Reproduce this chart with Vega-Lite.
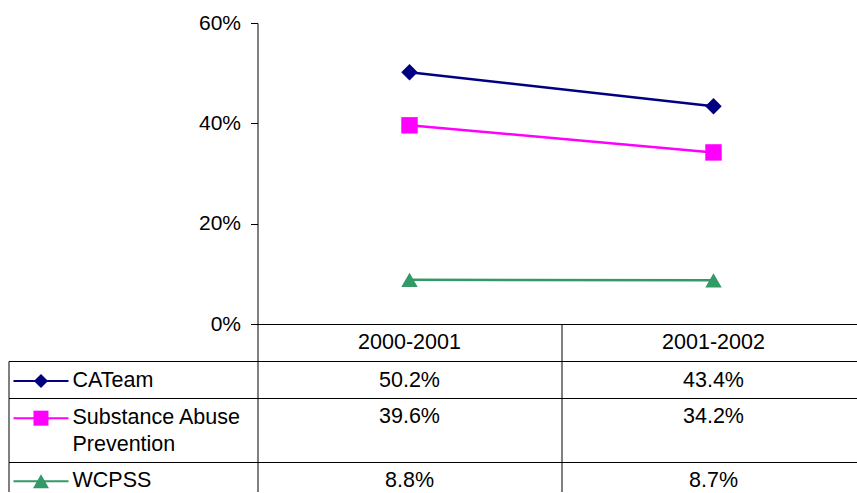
{
  "$schema": "https://vega.github.io/schema/vega-lite/v6.json",
  "background": "white",
  "padding": {"left": 8.5, "top": 0, "right": -9, "bottom": 0},
  "columns": 2,
  "spacing": 0,
  "bounds": "flush",
  "config": {
    "view": {"stroke": null},
    "font": "Liberation Sans",
    "text": {"font": "Liberation Sans", "fontSize": 21.5, "color": "black"}
  },
  "datasets": {
    "values": [
      {"series": "CATeam", "year": "2000-2001", "value": 0.502},
      {"series": "CATeam", "year": "2001-2002", "value": 0.434},
      {"series": "Substance Abuse Prevention", "year": "2000-2001", "value": 0.396},
      {"series": "Substance Abuse Prevention", "year": "2001-2002", "value": 0.342},
      {"series": "WCPSS", "year": "2000-2001", "value": 0.088},
      {"series": "WCPSS", "year": "2001-2002", "value": 0.087}
    ],
    "legend": [
      {"series": "CATeam", "label": "CATeam"},
      {"series": "Substance Abuse Prevention", "label": "Substance Abuse\nPrevention"},
      {"series": "WCPSS", "label": "WCPSS"}
    ]
  },
  "concat": [
    {"width": 249, "height": 23, "data": {"values": []}, "mark": "point"},
    {"width": 608, "height": 23, "data": {"values": []}, "mark": "point"},
    {"width": 249, "height": 301, "data": {"values": []}, "mark": "point"},
    {
      "width": 608, "height": 301,
      "data": {"name": "values"},
      "encoding": {
        "x": {"field": "year", "type": "nominal", "title": null,
              "axis": {"orient": "bottom", "labels": false, "ticks": false, "domainColor": "black", "domainWidth": 1}},
        "y": {"field": "value", "type": "quantitative", "title": null,
              "scale": {"domain": [0, 0.6], "nice": false},
              "axis": {"values": [0, 0.2, 0.4, 0.6], "format": ".0%", "grid": false, "tickSize": 7, "tickColor": "black",
                       "domainColor": "black", "labelPadding": 10, "labelFontSize": 21, "labelColor": "black", "labelFont": "Liberation Sans"}},
        "color": {"field": "series", "type": "nominal", "legend": null,
                  "scale": {"domain": ["CATeam", "Substance Abuse Prevention", "WCPSS"], "range": ["#000080", "#FF00FF", "#339966"]}}
      },
      "layer": [
        {"mark": {"type": "line", "strokeWidth": 2.5}},
        {"mark": {"type": "point", "filled": true, "opacity": 1, "size": 270},
         "encoding": {"shape": {"field": "series", "type": "nominal", "legend": null,
                                "scale": {"domain": ["CATeam", "Substance Abuse Prevention", "WCPSS"], "range": ["diamond", "square", "triangle-up"]}}}}
      ]
    },
    {"width": 249, "height": 37, "data": {"values": []}, "mark": "point"},
    {
      "width": 608, "height": 37,
      "data": {"name": "values"},
      "transform": [{"filter": "datum.series === 'CATeam'"}],
      "mark": {"type": "text", "fontSize": 21.5},
      "encoding": {
        "x": {"field": "year", "type": "nominal", "title": null,
              "scale": {"type": "band", "paddingInner": 0, "paddingOuter": 0},
              "axis": {"orient": "top", "labels": false, "ticks": false, "domain": false, "grid": true, "gridColor": "black", "gridOpacity": 1, "bandPosition": 0}},
        "y": {"field": "series", "type": "nominal", "title": null, "bandPosition": 0.52, "scale": {"type": "band", "paddingInner": 0, "paddingOuter": 0}, "axis": null},
        "text": {"field": "year", "type": "nominal"}
      }
    },
    {
      "width": 249, "height": 37,
      "data": {"name": "legend"},
      "transform": [{"filter": "datum.series === 'CATeam'"}],
      "encoding": {
        "y": {"field": "series", "type": "nominal", "title": null, "bandPosition": 0.54, "scale": {"type": "band", "paddingInner": 0, "paddingOuter": 0},
              "axis": {"orient": "left", "labels": false, "ticks": false, "domainColor": "black"}},
        "color": {"field": "series", "type": "nominal", "legend": null,
                  "scale": {"domain": ["CATeam", "Substance Abuse Prevention", "WCPSS"], "range": ["#000080", "#FF00FF", "#339966"]}}
      },
      "layer": [
        {"mark": {"type": "point", "shape": "stroke", "size": 3025, "strokeWidth": 2, "opacity": 1},
         "encoding": {"x": {"field": "series", "type": "nominal", "title": null, "bandPosition": 0.1305, "scale": {"type": "band", "paddingInner": 0, "paddingOuter": 0},
                            "axis": {"orient": "top", "labels": false, "ticks": false, "domainColor": "black"}}}},
        {"mark": {"type": "point", "shape": "diamond", "filled": true, "size": 200, "opacity": 1},
         "encoding": {"x": {"field": "series", "type": "nominal", "title": null, "bandPosition": 0.1305, "scale": {"type": "band", "paddingInner": 0, "paddingOuter": 0},
                            "axis": {"orient": "top", "labels": false, "ticks": false, "domainColor": "black"}}}},
        {"mark": {"type": "text", "align": "left", "fontSize": 21.5, "color": "black"},
         "encoding": {"x": {"field": "series", "type": "nominal", "title": null, "bandPosition": 0.257, "scale": {"type": "band", "paddingInner": 0, "paddingOuter": 0},
                            "axis": {"orient": "top", "labels": false, "ticks": false, "domainColor": "black"}},
                      "text": {"field": "label"}, "color": {"value": "black"}}}
      ]
    },
    {
      "width": 608, "height": 37,
      "data": {"name": "values"},
      "transform": [{"filter": "datum.series === 'CATeam'"}],
      "mark": {"type": "text", "fontSize": 21.5},
      "encoding": {
        "x": {"field": "year", "type": "nominal", "title": null,
              "scale": {"type": "band", "paddingInner": 0, "paddingOuter": 0},
              "axis": {"orient": "top", "labels": false, "ticks": false, "domainColor": "black", "grid": true, "gridColor": "black", "gridOpacity": 1, "bandPosition": 0}},
        "y": {"field": "series", "type": "nominal", "title": null, "bandPosition": 0.54, "scale": {"type": "band", "paddingInner": 0, "paddingOuter": 0}, "axis": null},
        "text": {"field": "value", "type": "quantitative", "format": ".1%"}
      }
    },
    {
      "width": 249, "height": 64,
      "data": {"name": "legend"},
      "transform": [{"filter": "datum.series === 'Substance Abuse Prevention'"}],
      "encoding": {
        "y": {"field": "series", "type": "nominal", "title": null, "bandPosition": 0.315, "scale": {"type": "band", "paddingInner": 0, "paddingOuter": 0},
              "axis": {"orient": "left", "labels": false, "ticks": false, "domainColor": "black"}},
        "color": {"field": "series", "type": "nominal", "legend": null,
                  "scale": {"domain": ["CATeam", "Substance Abuse Prevention", "WCPSS"], "range": ["#000080", "#FF00FF", "#339966"]}}
      },
      "layer": [
        {"mark": {"type": "point", "shape": "stroke", "size": 3025, "strokeWidth": 2, "opacity": 1},
         "encoding": {"x": {"field": "series", "type": "nominal", "title": null, "bandPosition": 0.1305, "scale": {"type": "band", "paddingInner": 0, "paddingOuter": 0},
                            "axis": {"orient": "top", "labels": false, "ticks": false, "domainColor": "black"}}}},
        {"mark": {"type": "point", "shape": "square", "filled": true, "size": 225, "opacity": 1},
         "encoding": {"x": {"field": "series", "type": "nominal", "title": null, "bandPosition": 0.1305, "scale": {"type": "band", "paddingInner": 0, "paddingOuter": 0},
                            "axis": {"orient": "top", "labels": false, "ticks": false, "domainColor": "black"}}}},
        {"mark": {"type": "text", "align": "left", "fontSize": 21.5, "color": "black", "lineBreak": "\n", "lineHeight": 27},
         "encoding": {"x": {"field": "series", "type": "nominal", "title": null, "bandPosition": 0.257, "scale": {"type": "band", "paddingInner": 0, "paddingOuter": 0},
                            "axis": {"orient": "top", "labels": false, "ticks": false, "domainColor": "black"}},
                      "text": {"field": "label"}, "color": {"value": "black"}}}
      ]
    },
    {
      "width": 608, "height": 64,
      "data": {"name": "values"},
      "transform": [{"filter": "datum.series === 'Substance Abuse Prevention'"}],
      "mark": {"type": "text", "fontSize": 21.5},
      "encoding": {
        "x": {"field": "year", "type": "nominal", "title": null,
              "scale": {"type": "band", "paddingInner": 0, "paddingOuter": 0},
              "axis": {"orient": "top", "labels": false, "ticks": false, "domainColor": "black", "grid": true, "gridColor": "black", "gridOpacity": 1, "bandPosition": 0}},
        "y": {"field": "series", "type": "nominal", "title": null, "bandPosition": 0.3, "scale": {"type": "band", "paddingInner": 0, "paddingOuter": 0}, "axis": null},
        "text": {"field": "value", "type": "quantitative", "format": ".1%"}
      }
    },
    {
      "width": 249, "height": 30,
      "data": {"name": "legend"},
      "transform": [{"filter": "datum.series === 'WCPSS'"}],
      "encoding": {
        "y": {"field": "series", "type": "nominal", "title": null, "bandPosition": 0.64, "scale": {"type": "band", "paddingInner": 0, "paddingOuter": 0},
              "axis": {"orient": "left", "labels": false, "ticks": false, "domainColor": "black"}},
        "color": {"field": "series", "type": "nominal", "legend": null,
                  "scale": {"domain": ["CATeam", "Substance Abuse Prevention", "WCPSS"], "range": ["#000080", "#FF00FF", "#339966"]}}
      },
      "layer": [
        {"mark": {"type": "point", "shape": "stroke", "size": 3025, "strokeWidth": 2, "opacity": 1},
         "encoding": {"x": {"field": "series", "type": "nominal", "title": null, "bandPosition": 0.1305, "scale": {"type": "band", "paddingInner": 0, "paddingOuter": 0},
                            "axis": {"orient": "top", "labels": false, "ticks": false, "domainColor": "black"}}}},
        {"mark": {"type": "point", "shape": "triangle-up", "filled": true, "size": 256, "opacity": 1},
         "encoding": {"x": {"field": "series", "type": "nominal", "title": null, "bandPosition": 0.1305, "scale": {"type": "band", "paddingInner": 0, "paddingOuter": 0},
                            "axis": {"orient": "top", "labels": false, "ticks": false, "domainColor": "black"}}}},
        {"mark": {"type": "text", "align": "left", "fontSize": 21.5, "color": "black"},
         "encoding": {"x": {"field": "series", "type": "nominal", "title": null, "bandPosition": 0.257, "scale": {"type": "band", "paddingInner": 0, "paddingOuter": 0},
                            "axis": {"orient": "top", "labels": false, "ticks": false, "domainColor": "black"}},
                      "text": {"field": "label"}, "color": {"value": "black"}}}
      ]
    },
    {
      "width": 608, "height": 30,
      "data": {"name": "values"},
      "transform": [{"filter": "datum.series === 'WCPSS'"}],
      "mark": {"type": "text", "fontSize": 21.5},
      "encoding": {
        "x": {"field": "year", "type": "nominal", "title": null,
              "scale": {"type": "band", "paddingInner": 0, "paddingOuter": 0},
              "axis": {"orient": "top", "labels": false, "ticks": false, "domainColor": "black", "grid": true, "gridColor": "black", "gridOpacity": 1, "bandPosition": 0}},
        "y": {"field": "series", "type": "nominal", "title": null, "bandPosition": 0.64, "scale": {"type": "band", "paddingInner": 0, "paddingOuter": 0}, "axis": null},
        "text": {"field": "value", "type": "quantitative", "format": ".1%"}
      }
    }
  ]
}
